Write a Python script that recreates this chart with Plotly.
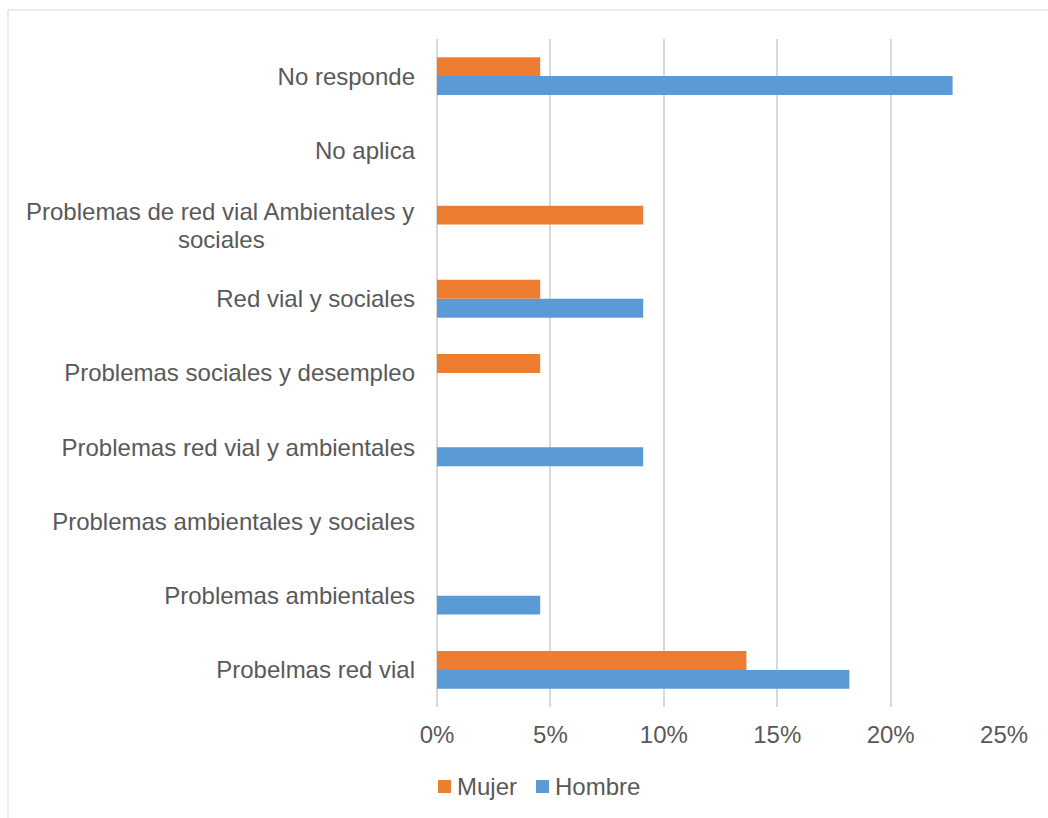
import plotly.graph_objects as go

# Categories listed bottom to top as they appear on the axis
categories = [
    "Probelmas red vial",
    "Problemas ambientales",
    "Problemas ambientales y sociales",
    "Problemas red vial y ambientales",
    "Problemas sociales y desempleo",
    "Red vial y sociales",
    "Problemas de red vial Ambientales y sociales",
    "No aplica",
    "No responde",
]
mujer = [0.1364, 0.0, 0.0, 0.0, 0.0455, 0.0455, 0.0909, 0.0, 0.0455]
hombre = [0.1818, 0.0455, 0.0, 0.0909, 0.0, 0.0909, 0.0, 0.0, 0.2273]
x_ticks = [0, 0.05, 0.10, 0.15, 0.20, 0.25]
x_tick_labels = ["0%", "5%", "10%", "15%", "20%", "25%"]

# The long category wraps onto two lines, the second centred under the first
wrapped = {"Problemas de red vial Ambientales y sociales":
           ("Problemas de red vial Ambientales y", "sociales")}
tick_text = ["" if c in wrapped else c for c in categories]

ORANGE = "#ED7D31"
BLUE = "#5B9BD5"
TEXT = "#595959"
GRID = "#D9D9D9"
FONT = "Liberation Sans, Arial, sans-serif"
FS = 24

# Plot area in pixels
L, R, T, B = 437, 43, 39, 111
W, H = 1048, 818
pw, ph = W - L - R, H - T - B


def px_x(p):
    return (p - L) / pw


def px_y(p):
    return (H - B - p) / ph


fig = go.Figure()
fig.add_trace(go.Bar(y=categories, x=hombre, name="Hombre", orientation="h",
                     marker=dict(color=BLUE, line=dict(width=0))))
fig.add_trace(go.Bar(y=categories, x=mujer, name="Mujer", orientation="h",
                     marker=dict(color=ORANGE, line=dict(width=0))))

for cat, (line1, line2) in wrapped.items():
    fig.add_annotation(x=0, y=cat, xref="paper", yref="y", text=line1,
                       xanchor="right", yanchor="middle", xshift=-21, yshift=13,
                       showarrow=False, font=dict(family=FONT, size=FS, color=TEXT))
    fig.add_annotation(x=px_x(221.5), y=cat, xref="paper", yref="y", text=line2,
                       xanchor="center", yanchor="middle", yshift=-15,
                       showarrow=False, font=dict(family=FONT, size=FS, color=TEXT))

# Legend: Mujer then Hombre, small squares followed by the series name
legend_items = [("Mujer", ORANGE, 438), ("Hombre", BLUE, 536)]
for name, color, x0 in legend_items:
    fig.add_shape(type="rect", xref="paper", yref="paper",
                  x0=px_x(x0), x1=px_x(x0 + 13), y0=px_y(793), y1=px_y(780),
                  line=dict(width=0), fillcolor=color)
    fig.add_annotation(x=px_x(x0 + 17), y=px_y(786.5), xref="paper", yref="paper",
                       text=name, xanchor="left", yanchor="middle", showarrow=False,
                       font=dict(family=FONT, size=FS, color=TEXT))

# Outer chart border
fig.add_shape(type="rect", xref="paper", yref="paper",
              x0=px_x(8), x1=px_x(1060), y0=px_y(830), y1=px_y(10),
              line=dict(color=GRID, width=1), fillcolor="rgba(0,0,0,0)")

fig.update_layout(
    width=W, height=H,
    margin=dict(l=L, r=R, t=T, b=B, pad=0),
    paper_bgcolor="white", plot_bgcolor="white",
    barmode="group", bargap=0.49, bargroupgap=0,
    font=dict(family=FONT, size=FS, color=TEXT),
    showlegend=False,
    xaxis=dict(range=[0, 0.2504], tickvals=x_ticks, ticktext=x_tick_labels,
               showgrid=True, gridcolor=GRID, gridwidth=2,
               zeroline=True, zerolinecolor=GRID, zerolinewidth=2,
               showline=False, ticks="",
               ticklabelstandoff=11, fixedrange=True),
    yaxis=dict(tickvals=categories, ticktext=tick_text, showgrid=False,
               zeroline=False, showline=False, ticks="",
               ticklabelstandoff=21, fixedrange=True),
)

fig.write_html("out.html")
